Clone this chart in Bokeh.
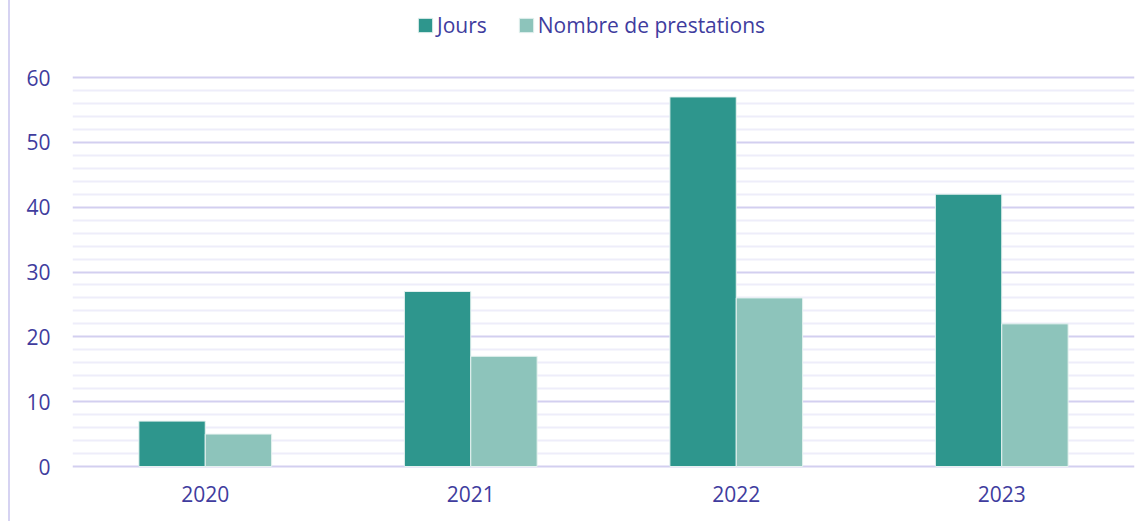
from bokeh.plotting import figure
from bokeh.models import (ColumnDataSource, Legend, LegendItem, FixedTicker, FactorRange, Range1d)
from bokeh.transform import dodge
from bokeh.embed import file_html
from bokeh.resources import INLINE

years = ["2020", "2021", "2022", "2023"]
jours = [7, 27, 57, 42]
prestations = [5, 17, 26, 22]
series_names = ["Jours", "Nombre de prestations"]
y_ticks = [0, 10, 20, 30, 40, 50, 60]
y_minor_ticks = [v for v in range(2, 60, 2) if v % 10]

TEXT = "#403c9e"
FONT = "Open Sans"
FS = "21px"

W, H = 1148, 521
FRAME_TOP, FRAME_BOTTOM = 0, 468
ZERO_PX, SIXTY_PX = 466, 77
ppu = (ZERO_PX - SIXTY_PX) / 60.0
y_start = -(FRAME_BOTTOM - ZERO_PX) / ppu
y_end = 60 + (SIXTY_PX - FRAME_TOP) / ppu

src = ColumnDataSource(dict(year=years, jours=jours, prest=prestations))

p = figure(x_range=FactorRange(*years), y_range=Range1d(y_start, y_end),
           width=W, height=H, output_backend="svg", toolbar_location=None,
           min_border_left=72, min_border_right=14, min_border_top=FRAME_TOP,
           min_border_bottom=H - FRAME_BOTTOM)
p.outline_line_color = None
p.background_fill_color = "white"
p.border_fill_alpha = 0
p.styles = {"background": "linear-gradient(to right, white 8px, #d6d3f2 8px, #d6d3f2 10px, white 10px)"}

# grid
p.xgrid.grid_line_color = None
ticker = FixedTicker(ticks=y_ticks, minor_ticks=y_minor_ticks)
p.yaxis.ticker = ticker
p.ygrid.ticker = ticker
p.ygrid.grid_line_color = "#d3cff0"
p.ygrid.grid_line_width = 2
p.ygrid.minor_grid_line_color = "#eeedfa"
p.ygrid.minor_grid_line_width = 2

r1 = p.vbar(x=dodge("year", -0.125, range=p.x_range), top="jours", width=0.25, source=src,
            fill_color="#2e968d", line_color="#e6f2f0", line_width=1)
r2 = p.vbar(x=dodge("year", 0.125, range=p.x_range), top="prest", width=0.25, source=src,
            fill_color="#8dc4bb", line_color="#e6f2f0", line_width=1)

for ax in (p.xaxis, p.yaxis):
    ax.axis_line_color = None
    ax.major_tick_line_color = None
    ax.minor_tick_line_color = None
    ax.major_label_text_color = TEXT
    ax.major_label_text_font = FONT
    ax.major_label_text_font_size = FS
p.yaxis.major_label_standoff = 16
p.xaxis.major_label_standoff = 11

legend = Legend(items=[LegendItem(label=series_names[0], renderers=[r1]),
                       LegendItem(label=series_names[1], renderers=[r2])],
                orientation="horizontal", location=(344, FRAME_BOTTOM - 39),
                label_text_font=FONT, label_text_font_size=FS, label_text_color=TEXT,
                glyph_width=18, glyph_height=18, label_standoff=3, spacing=30,
                padding=0, margin=0, border_line_color=None, background_fill_alpha=0)
p.add_layout(legend, "center")

open("out.html", "w").write(file_html(p, INLINE))
